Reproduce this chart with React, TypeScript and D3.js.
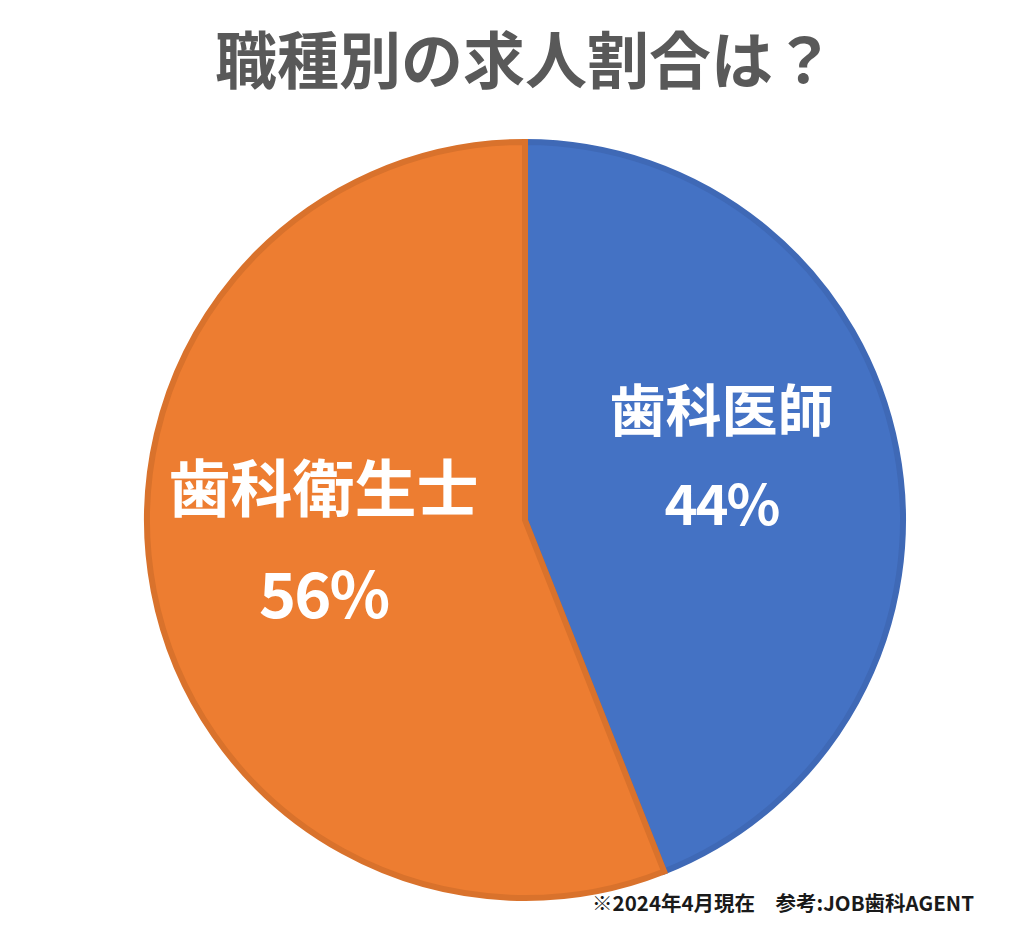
import React from "react";
import * as d3 from "d3";

const categories = ["歯科医師", "歯科衛生士"];
const shares = [44, 56];
const fills = ["#4472C4", "#ED7D31"];
const strokes = ["#3F69B6", "#D9722C"];
const titleText = "職種別の求人割合は？";
const footnote = "※2024年4月現在　参考:JOB歯科AGENT";

const W = 1024;
const H = 926;
const cx = 525;
const cy = 520;
const R = 378;
const font = "'Noto Sans CJK JP', 'Noto Sans', sans-serif";

// label layout per slice
const labelLayout = [
  { dx: 0, nameDy: -76, pctDy: 18, nameSize: 56, pctSize: 56 },
  { dx: -5, nameDy: -72, pctDy: 33, nameSize: 62, pctSize: 63 },
];

export default function App() {
  const pie = d3.pie<number>().sort(null).value((d) => d);
  const arcs = pie(shares);
  const arc = d3.arc<d3.PieArcDatum<number>>().innerRadius(0).outerRadius(R);
  const labelArc = d3
    .arc<d3.PieArcDatum<number>>()
    .innerRadius(200)
    .outerRadius(200);

  return (
    <svg
      width={W}
      height={H}
      style={{ display: "block", position: "absolute", left: 0, top: 0 }}
    >
      <rect width={W} height={H} fill="#ffffff" />
      <text
        x={cx}
        y={84}
        textAnchor="middle"
        fontFamily={font}
        fontWeight={700}
        fontSize={62}
        fill="#595959"
      >
        {titleText}
      </text>
      <g transform={`translate(${cx},${cy})`}>
        {arcs.map((a, i) => (
          <path
            key={i}
            d={arc(a) || ""}
            fill={fills[i]}
            stroke={strokes[i]}
            strokeWidth={6}
            strokeLinejoin="miter"
          />
        ))}
        {arcs.map((a, i) => {
          const [lx, ly] = labelArc.centroid(a);
          const L = labelLayout[i];
          return (
            <g key={"l" + i} fill="#ffffff" fontFamily={font} textAnchor="middle">
              <text
                x={lx + L.dx}
                y={ly + L.nameDy}
                dominantBaseline="central"
                fontSize={L.nameSize}
                fontWeight={700}
              >
                {categories[i]}
              </text>
              <text
                x={lx + L.dx}
                y={ly + L.pctDy}
                dominantBaseline="central"
                fontSize={L.pctSize}
                fontWeight={600}
                letterSpacing={-2}
              >
                {shares[i] + "%"}
              </text>
            </g>
          );
        })}
      </g>
      <text
        x={974}
        y={911}
        textAnchor="end"
        fontFamily={font}
        fontWeight={700}
        fontSize={20.5}
        fill="#1a1a1a"
      >
        {footnote}
      </text>
    </svg>
  );
}
